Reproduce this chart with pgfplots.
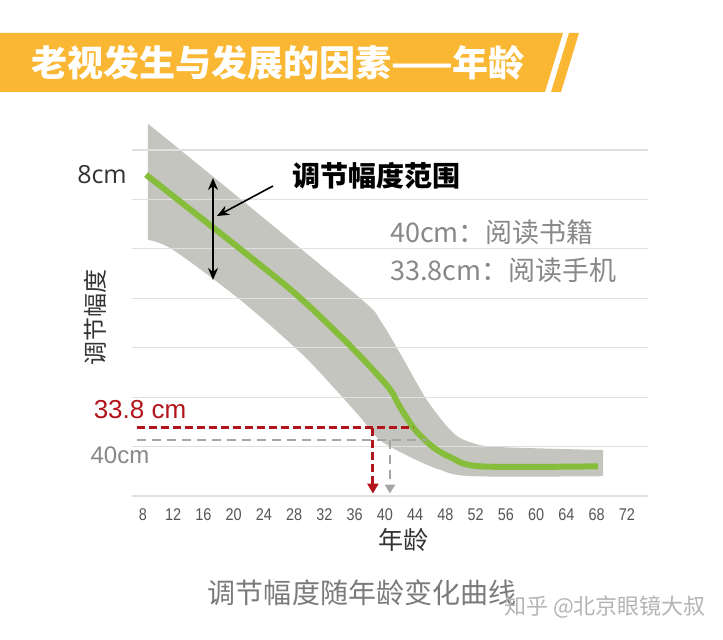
\documentclass[border=0pt]{standalone}
\usepackage{fontspec}
\usepackage{pgfplots}
\pgfplotsset{compat=1.18}
\usepgfplotslibrary{fillbetween}
\usetikzlibrary{arrows.meta}
\setmainfont{Liberation Sans}
\newfontfamily\cjk{Noto Sans CJK SC}
\newfontfamily\narrow{Liberation Sans}[FakeStretch=0.85]
\newfontfamily\osans{Open Sans}
\definecolor{banner}{RGB}{249,183,52}
\definecolor{bandc}{RGB}{197,197,191}
\definecolor{greenc}{RGB}{134,190,60}
\definecolor{gridc}{RGB}{224,224,224}
\definecolor{redc}{RGB}{178,20,28}
\definecolor{grayd}{RGB}{165,165,165}
\definecolor{tickc}{RGB}{85,85,85}
\definecolor{c333}{RGB}{51,51,51}
\definecolor{c888}{RGB}{136,136,136}
\definecolor{c777}{RGB}{122,122,122}
\definecolor{cAAA}{RGB}{180,180,180}

\begin{document}
\begin{tikzpicture}
\begin{axis}[
  scale only axis, width=516bp, height=375.7bp,
  xmin=6.545, xmax=74.78, ymin=0, ymax=7.6,
  axis line style={draw=none},
  major tick length=0pt,
  xtick={8,12,...,72},
  ytick={0,...,7}, yticklabels={},
  ymajorgrids,
  grid style={line width=1.2bp, color=gridc},
  xticklabel style={font=\narrow\fontsize{17bp}{20bp}\selectfont, text=tickc, yshift=-9bp},
  /pgf/number format/assume math mode=true,
  clip=false,
  set layers,
]
% band of accommodation amplitude
\addplot[name path=up, draw=none, smooth] coordinates {
  (8.66,7.53) (22.15,5.85) (36.96,3.97) (39.34,3.56) (41.98,2.89)
  (45.55,1.94) (48.99,1.28) (51.64,1.07) (55.21,0.99) (68.83,0.93)
};
\addplot[name path=lo, draw=none, smooth] coordinates {
  (8.66,5.18) (11.97,4.98) (20.83,3.97) (28.76,2.91) (33.12,2.21)
  (36.69,1.60) (39.34,1.13) (43.31,0.79) (47.27,0.53) (51.64,0.40) (68.83,0.40)
};
\addplot[bandc] fill between[of=up and lo, on layer=axis background];
% mean curve
\addplot[greenc, line width=6bp, smooth] coordinates {
  (8.40,6.50) (22.15,4.84) (28.76,4.01) (35.37,3.04) (40.40,2.21)
  (41.98,1.80) (43.97,1.34) (46.35,0.99) (48.60,0.79) (52.56,0.60) (68.17,0.60)
};
% reading distances
\addplot[grayd, line width=2.6bp, dash pattern=on 9bp off 6bp] coordinates {(7.2,1.13) (45.6,1.13)};
\addplot[grayd, line width=2.6bp, dash pattern=on 9bp off 6bp, -{Triangle[width=10bp,length=9bp]}] coordinates {(40.66,1.13) (40.66,0.05)};
\addplot[redc, line width=2.8bp, dash pattern=on 8bp off 4bp] coordinates {(7.2,1.38) (43.7,1.38)};
\addplot[redc, line width=2.8bp, dash pattern=on 8bp off 4bp, -{Triangle[width=11bp,length=10bp]}] coordinates {(38.4,1.38) (38.4,0.05)};
\coordinate (O) at (axis cs:6.545,0);
\end{axis}

\begin{scope}[shift={(O)}, x=1bp, y=1bp, shift={(-132,-144)}]
\path (0,0) rectangle (723,640);
% title banner
\fill[banner] (0,607) -- (563,607) -- (545,548) -- (0,548) -- cycle;
\fill[banner] (569,607) -- (579,607) -- (561,548) -- (551,548) -- cycle;
\node[text=white, font=\cjk\bfseries\fontsize{36bp}{40bp}\selectfont] at (278,577) {老视发生与发展的因素——年龄};
\node[font=\osans\fontsize{25bp}{30bp}\selectfont, text=c333] at (102,465) {8cm};
\node[font=\fontsize{26bp}{30bp}\selectfont, text=redc] at (140,230) {33.8 cm};
\node[font=\fontsize{24bp}{28bp}\selectfont, text=c888] at (120,185) {40cm};
\node[rotate=90, font=\cjk\fontsize{24bp}{28bp}\selectfont, text=c333] at (95,322) {调节幅度};
\node[font=\cjk\fontsize{25bp}{28bp}\selectfont, text=c333] at (403,100) {年龄};
\node[font=\cjk\bfseries\fontsize{28bp}{32bp}\selectfont] at (376,464) {调节幅度范围};
\node[anchor=west, inner sep=0pt, font=\cjk\fontsize{27bp}{30bp}\selectfont, text=c888] at (390,408) {40cm：阅读书籍};
\node[anchor=west, inner sep=0pt, font=\cjk\fontsize{27bp}{30bp}\selectfont, text=c888] at (390,370) {33.8cm：阅读手机};
\node[font=\cjk\fontsize{28bp}{32bp}\selectfont, text=c777] at (362,47) {调节幅度随年龄变化曲线};
\node[font=\cjk\fontsize{22bp}{26bp}\selectfont, text=cAAA] at (605,33) {知乎 @北京眼镜大叔};
\draw[line width=1.6bp, {Stealth[length=12bp,width=10bp]}-{Stealth[length=12bp,width=10bp]}] (213,462) -- (213,360);
\draw[line width=1.6bp, -{Stealth[length=12bp,width=10bp]}] (273,454) -- (217,424);
\end{scope}
\end{tikzpicture}
\end{document}
